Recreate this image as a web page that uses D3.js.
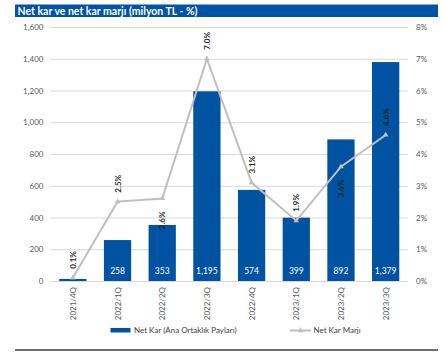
<!DOCTYPE html>
<html>
<head>
<meta charset="utf-8">
<script src="https://cdn.jsdelivr.net/npm/d3@7"></script>
<style>
  html, body { margin: 0; padding: 0; background: #fff; }
  svg { display: block; font-family: Lato, "Open Sans", sans-serif; }
</style>
</head>
<body>
<svg id="chart" width="444" height="352"></svg>
<script>
// Quarterly net profit (million TL) and net profit margin (%)
const quarters = ["2021/4Q", "2022/1Q", "2022/2Q", "2022/3Q", "2022/4Q", "2023/1Q", "2023/2Q", "2023/3Q"];
const netProfit = [13, 258, 353, 1195, 574, 399, 892, 1379];
const netMargin = [0.1, 2.5, 2.6, 7.0, 3.1, 1.9, 3.6, 4.6];
const showProfitLabel = [false, true, true, true, true, true, true, true];
const marginLabelBelow = [false, false, true, false, false, false, true, false];
const leftTicks = [0, 200, 400, 600, 800, 1000, 1200, 1400, 1600];
const rightTicks = [0, 1, 2, 3, 4, 5, 6, 7, 8];

const titleText = "Net kar ve net kar marjı (milyon TL - %)";
const legendBar = "Net Kar (Ana Ortaklık Payları)";
const legendLine = "Net Kar Marjı";

const blue = "#0053a0";
const lineGray = "#bfbfbf";

const svg = d3.select("#chart");

const plot = { left: 50.5, right: 408, top: 27, bottom: 281 };

const x = d3.scaleBand().domain(quarters).range([plot.left, plot.right]).paddingInner(0.39).paddingOuter(0.195);
const yL = d3.scaleLinear().domain([0, 1600]).range([plot.bottom, plot.top]);
const yR = d3.scaleLinear().domain([0, 8]).range([plot.bottom, plot.top]);

// title band
svg.append("rect").attr("x", 15).attr("y", 4.5).attr("width", 423).attr("height", 12.5).attr("fill", "#0054a3");
svg.append("text").attr("x", 17.5).attr("y", 14.5).attr("fill", "#fff")
  .attr("font-size", 10.5).attr("font-weight", "bold").text(titleText);

// gridlines
svg.append("g").selectAll("line").data(leftTicks.slice(1)).join("line")
  .attr("x1", plot.left).attr("x2", plot.right)
  .attr("y1", d => yL(d) + 0.5).attr("y2", d => yL(d) + 0.5)
  .attr("stroke", "#d9d9d9").attr("stroke-width", 1);

// left axis
const axL = svg.append("g").attr("transform", `translate(${plot.left},0)`)
  .call(d3.axisLeft(yL).tickValues(leftTicks).tickFormat(d3.format(",")).tickSize(0).tickPadding(7));
axL.select(".domain").remove();
axL.selectAll("text").attr("font-size", 8).attr("fill", "#595959").attr("font-family", "Lato, sans-serif");

// right axis
const axR = svg.append("g").attr("transform", `translate(${plot.right},0)`)
  .call(d3.axisRight(yR).tickValues(rightTicks).tickFormat(d => d + "%").tickSize(0).tickPadding(8));
axR.select(".domain").remove();
axR.selectAll("text").attr("font-size", 8).attr("fill", "#595959").attr("font-family", "Lato, sans-serif");

// bars
svg.append("g").selectAll("rect").data(quarters).join("rect")
  .attr("x", d => x(d)).attr("width", x.bandwidth())
  .attr("y", (d, i) => yL(netProfit[i]))
  .attr("height", (d, i) => yL(0) - yL(netProfit[i]))
  .attr("fill", blue);

// baseline
svg.append("line").attr("x1", plot.left).attr("x2", plot.right)
  .attr("y1", plot.bottom + 0.5).attr("y2", plot.bottom + 0.5)
  .attr("stroke", "#d9d9d9").attr("stroke-width", 1);

// bar value labels
svg.append("g").selectAll("text").data(quarters.filter((d, i) => showProfitLabel[i])).join("text")
  .attr("x", d => x(d) + x.bandwidth() / 2)
  .attr("y", plot.bottom - 7)
  .attr("text-anchor", "middle").attr("fill", "#fff").attr("font-size", 8.5)
  .text(d => d3.format(",")(netProfit[quarters.indexOf(d)]));

// margin line
const cx = d => x(d) + x.bandwidth() / 2;
svg.append("path")
  .datum(quarters)
  .attr("fill", "none").attr("stroke", lineGray).attr("stroke-width", 2)
  .attr("d", d3.line().x(d => cx(d)).y((d, i) => yR(netMargin[i])));

// triangle markers
const tri = d3.symbol().type(d3.symbolTriangle).size(14);
svg.append("g").selectAll("path").data(quarters).join("path")
  .attr("transform", (d, i) => `translate(${cx(d)},${yR(netMargin[i])})`)
  .attr("d", tri).attr("fill", lineGray);

// margin labels (rotated)
svg.append("g").selectAll("text").data(quarters).join("text")
  .attr("transform", (d, i) => {
    const py = yR(netMargin[i]) + (marginLabelBelow[i] ? 13 : -9);
    return `translate(${cx(d) + 3},${py}) rotate(-90)`;
  })
  .attr("text-anchor", (d, i) => marginLabelBelow[i] ? "end" : "start")
  .attr("font-size", 8).attr("font-weight", "bold").attr("fill", "#262626")
  .text((d, i) => d3.format(".1f")(netMargin[i]) + "%");

// category labels
svg.append("g").selectAll("text").data(quarters).join("text")
  .attr("transform", d => `translate(${cx(d) + 3},${plot.bottom + 6}) rotate(-90)`)
  .attr("text-anchor", "end").attr("font-size", 8).attr("fill", "#595959")
  .text(d => d);

// legend
const lg = svg.append("g");
lg.append("rect").attr("x", 110.5).attr("y", 328).attr("width", 20).attr("height", 4.5).attr("fill", blue);
lg.append("text").attr("x", 134).attr("y", 333).attr("font-size", 8).attr("fill", "#404040").text(legendBar);
lg.append("line").attr("x1", 290).attr("x2", 311).attr("y1", 330.5).attr("y2", 330.5)
  .attr("stroke", lineGray).attr("stroke-width", 2);
lg.append("path").attr("transform", "translate(300.5,330.5)").attr("d", tri).attr("fill", lineGray);
lg.append("text").attr("x", 313.5).attr("y", 333).attr("font-size", 8).attr("fill", "#404040").text(legendLine);

// bottom rule
svg.append("line").attr("x1", 15).attr("x2", 438).attr("y1", 350).attr("y2", 350)
  .attr("stroke", "#404040").attr("stroke-width", 1.5);
</script>
</body>
</html>
